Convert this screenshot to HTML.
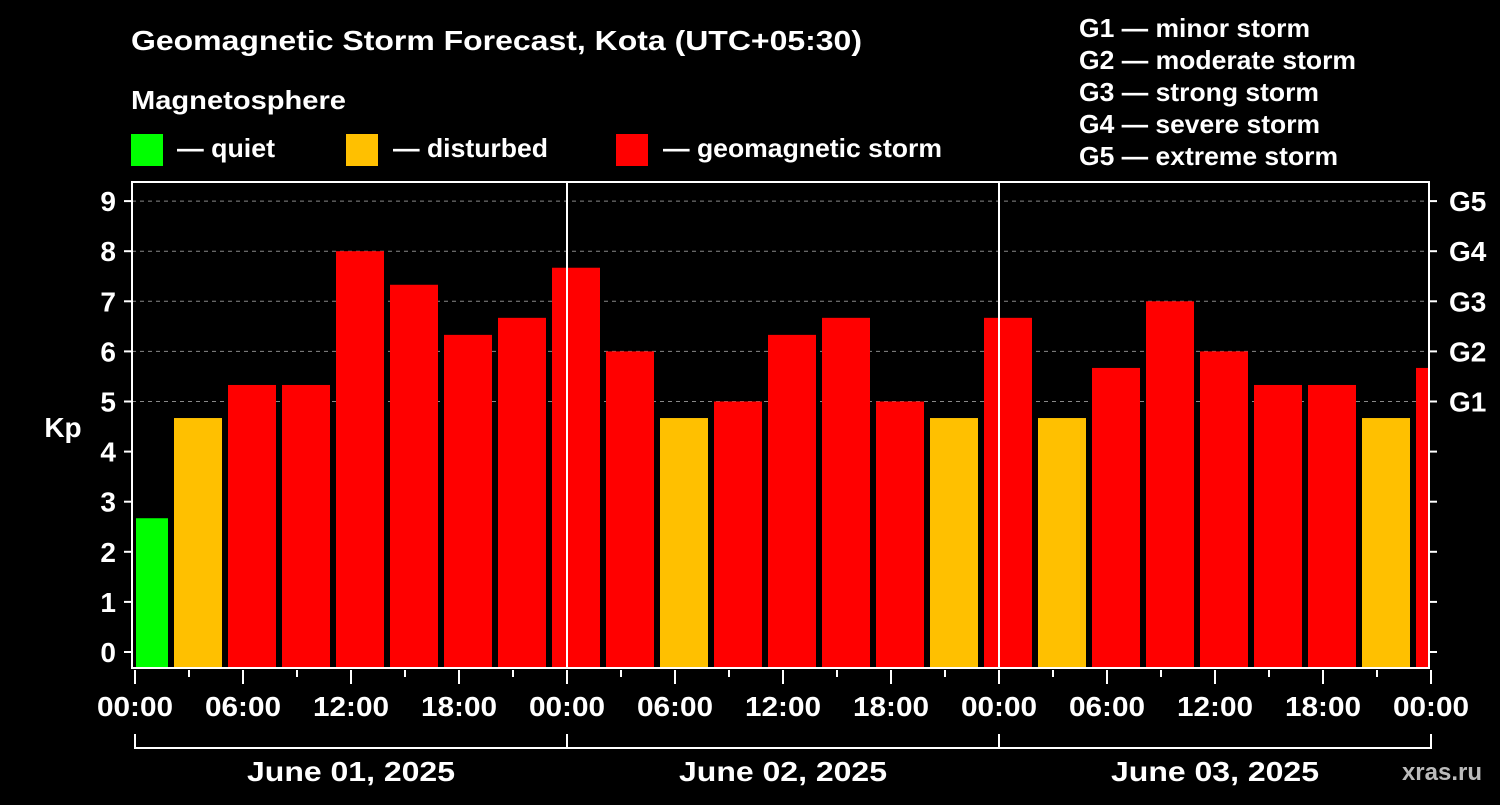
<!DOCTYPE html>
<html><head><meta charset="utf-8"><style>
body{margin:0;background:#000;width:1500px;height:800px;overflow:hidden;font-family:"Liberation Sans",Arial,sans-serif;font-weight:bold;color:#fff}
svg text{font-family:"Liberation Sans",Arial,sans-serif;font-weight:bold;fill:#fff}
</style></head><body>
<svg id="chart" width="1500" height="800" xmlns="http://www.w3.org/2000/svg">
<rect width="1500" height="800" fill="#000"/>
<text x="131" y="50" font-size="28" textLength="731" lengthAdjust="spacingAndGlyphs">Geomagnetic Storm Forecast, Kota (UTC+05:30)</text>
<text x="131" y="109" font-size="26" textLength="215" lengthAdjust="spacingAndGlyphs">Magnetosphere</text>
<g><rect x="131" y="134" width="32" height="32" fill="#00ff00"/><text x="177" y="157" font-size="26" textLength="98" lengthAdjust="spacingAndGlyphs">— quiet</text></g>
<g><rect x="346" y="134" width="32" height="32" fill="#ffc000"/><text x="393" y="157" font-size="26" textLength="155" lengthAdjust="spacingAndGlyphs">— disturbed</text></g>
<g><rect x="616" y="134" width="32" height="32" fill="#ff0000"/><text x="663" y="157" font-size="26" textLength="279" lengthAdjust="spacingAndGlyphs">— geomagnetic storm</text></g>
<g font-size="26">
<text x="1079" y="37" textLength="231" lengthAdjust="spacingAndGlyphs">G1 — minor storm</text>
<text x="1079" y="69" textLength="277" lengthAdjust="spacingAndGlyphs">G2 — moderate storm</text>
<text x="1079" y="101" textLength="240" lengthAdjust="spacingAndGlyphs">G3 — strong storm</text>
<text x="1079" y="133" textLength="241" lengthAdjust="spacingAndGlyphs">G4 — severe storm</text>
<text x="1079" y="165" textLength="259" lengthAdjust="spacingAndGlyphs">G5 — extreme storm</text>
</g>
<g id="grid"></g>
<g id="bars"></g>
<g id="axes"></g>
<text x="63" y="437" font-size="28" text-anchor="middle">Kp</text>
<text x="1482" y="780" font-size="24" text-anchor="end" fill="#bbb" style="fill:#bbb">xras.ru</text>
</svg>
<script>
const kpValues=[2.67,4.67,5.33,5.33,8,7.33,6.33,6.67,7.67,6,4.67,5,6.33,6.67,5,4.67,6.67,4.67,5.67,7,6,5.33,5.33,4.67,5.67];
const yTicks=[0,1,2,3,4,5,6,7,8,9];
const gLabels=["G1","G2","G3","G4","G5"];
const xTickLabels=["00:00","06:00","12:00","18:00","00:00","06:00","12:00","18:00","00:00","06:00","12:00","18:00","00:00"];
const dayLabels=["June 01, 2025","June 02, 2025","June 03, 2025"];
const NS="http://www.w3.org/2000/svg";
const L=132,R=1429,T=182,B=668,X0=135,PXH=18;
const y=v=>652-v*50.1;
const x=h=>X0+h*PXH;
function mk(tag,attrs,parent){const e=document.createElementNS(NS,tag);for(const k in attrs)e.setAttribute(k,attrs[k]);parent.appendChild(e);return e;}
const grid=document.getElementById('grid'),bars=document.getElementById('bars'),axes=document.getElementById('axes');
yTicks.filter(v=>v>=5).forEach(v=>{const l=mk('line',{x1:L,x2:R,y1:y(v),y2:y(v),stroke:'#888','stroke-dasharray':'4,4','stroke-width':1},grid);

});
kpValues.forEach((v,i)=>{let s=x(-1+3*i)+3,e=x(2+3*i)-3;s=Math.max(s,L+4);e=Math.min(e,R);if(e<=s)return;
const c=v<4?'#00ff00':(v<5?'#ffc000':'#ff0000');
const r=mk('rect',{x:s,y:y(v),width:e-s,height:B-y(v),fill:c},bars);

});
[1,2].forEach(d=>{const l=mk('line',{x1:x(24*d),x2:x(24*d),y1:T,y2:B,stroke:'#fff','stroke-width':2},axes);

});
const box=mk('rect',{x:L,y:T,width:R-L,height:B-T,fill:'none',stroke:'#fff','stroke-width':2},axes);


yTicks.forEach(v=>{mk('line',{x1:L-8,x2:L,y1:y(v),y2:y(v),stroke:'#fff','stroke-width':2},axes);
mk('line',{x1:R,x2:R+8,y1:y(v),y2:y(v),stroke:'#fff','stroke-width':2},axes);
const t=mk('text',{x:116,y:y(v)+10,'font-size':28,'text-anchor':'end'},axes);t.textContent=v;

});
gLabels.forEach((g,i)=>{const t=mk('text',{x:1449,y:y(5+i)+10,'font-size':28},axes);t.textContent=g;

});
for(let h=0;h<=72;h+=3){const major=h%6===0;mk('line',{x1:x(h),x2:x(h),y1:B+2,y2:B+(major?16:9),stroke:'#fff','stroke-width':2},axes);}
xTickLabels.forEach((lab,i)=>{const t=mk('text',{x:x(6*i)-38,y:716,'font-size':28,textLength:76,lengthAdjust:'spacingAndGlyphs'},axes);t.textContent=lab;

});
mk('polyline',{points:`${x(0)},734 ${x(0)},748 ${x(72)},748 ${x(72)},734`,fill:'none',stroke:'#fff','stroke-width':2},axes);
[24,48].forEach(h=>mk('line',{x1:x(h),x2:x(h),y1:734,y2:748,stroke:'#fff','stroke-width':2},axes));
dayLabels.forEach((d,i)=>{const t=mk('text',{x:x(24*i+12)-104,y:781,'font-size':28,textLength:208,lengthAdjust:'spacingAndGlyphs'},axes);t.textContent=d;

});
</script>
</body></html>
